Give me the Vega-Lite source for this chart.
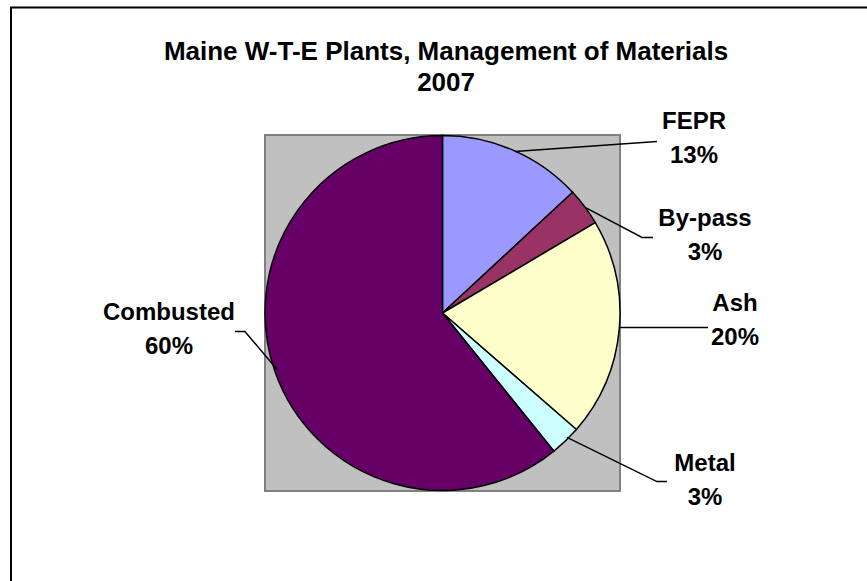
{
  "$schema": "https://vega.github.io/schema/vega-lite/v6.json",
  "width": 355,
  "height": 356,
  "autosize": {"type": "none"},
  "padding": {"left": 265, "top": 135, "right": 247, "bottom": 90},
  "background": "white",
  "view": {"fill": "#C0C0C0", "stroke": "#808080", "strokeWidth": 2},
  "config": {
    "font": "Liberation Sans"
  },
  "datasets": {
    "slices": [
      {"name": "FEPR", "value": 13.1, "pct": "13%", "order": 1, "lx": 1.417, "ly": 0.976},
      {"name": "By-pass", "value": 3.4, "pct": "3%", "order": 2, "lx": 1.479, "ly": 0.435},
      {"name": "Ash", "value": 19.9, "pct": "20%", "order": 3, "lx": 1.648, "ly": -0.045},
      {"name": "Metal", "value": 2.8, "pct": "3%", "order": 4, "lx": 1.479, "ly": -0.945},
      {"name": "Combusted", "value": 60.8, "pct": "60%", "order": 5, "lx": -1.541, "ly": -0.096}
    ],
    "leaders": [
      {"name": "FEPR", "seq": 1, "x": 0.408, "y": 0.907},
      {"name": "FEPR", "seq": 2, "x": 1.208, "y": 0.963},
      {"name": "By-pass", "seq": 1, "x": 0.803, "y": 0.593},
      {"name": "By-pass", "seq": 2, "x": 1.124, "y": 0.424},
      {"name": "By-pass", "seq": 3, "x": 1.186, "y": 0.424},
      {"name": "Ash", "seq": 1, "x": 0.994, "y": -0.081},
      {"name": "Ash", "seq": 2, "x": 1.496, "y": -0.081},
      {"name": "Metal", "seq": 1, "x": 0.701, "y": -0.699},
      {"name": "Metal", "seq": 2, "x": 1.208, "y": -0.947},
      {"name": "Metal", "seq": 3, "x": 1.265, "y": -0.947},
      {"name": "Combusted", "seq": 1, "x": -0.932, "y": -0.317},
      {"name": "Combusted", "seq": 2, "x": -1.113, "y": -0.104},
      {"name": "Combusted", "seq": 3, "x": -1.169, "y": -0.104}
    ],
    "titles": [
      {"text": "Maine W-T-E Plants, Management of Materials", "x": 0.02, "y": 1.466},
      {"text": "2007", "x": 0.02, "y": 1.29}
    ],
    "frame": [
      {"x1": -2.431, "x2": 2.6, "y1": 1.716, "y2": -1.7}
    ]
  },
  "layer": [
    {
      "data": {"name": "frame"},
      "mark": {"type": "rect", "fill": null, "fillOpacity": 0, "stroke": "black", "strokeWidth": 2, "clip": false},
      "encoding": {
        "x": {"field": "x1", "type": "quantitative", "scale": {"domain": [-1, 1], "nice": false, "zero": false}, "axis": null},
        "x2": {"field": "x2"},
        "y": {"field": "y1", "type": "quantitative", "scale": {"domain": [-1, 1], "nice": false, "zero": false}, "axis": null},
        "y2": {"field": "y2"}
      }
    },
    {
      "data": {"name": "slices"},
      "mark": {"type": "arc", "outerRadius": 177.5, "stroke": "black", "strokeWidth": 1.5},
      "encoding": {
        "theta": {"field": "value", "type": "quantitative", "stack": true},
        "order": {"field": "order", "type": "quantitative"},
        "color": {
          "field": "name",
          "type": "nominal",
          "scale": {
            "domain": ["FEPR", "By-pass", "Ash", "Metal", "Combusted"],
            "range": ["#9999FF", "#993366", "#FFFFCC", "#CCFFFF", "#660066"]
          },
          "legend": null
        }
      }
    },
    {
      "data": {"name": "leaders"},
      "mark": {"type": "line", "color": "black", "strokeWidth": 1.5, "clip": false},
      "encoding": {
        "x": {"field": "x", "type": "quantitative"},
        "y": {"field": "y", "type": "quantitative"},
        "detail": {"field": "name"},
        "order": {"field": "seq", "type": "quantitative"}
      }
    },
    {
      "data": {"name": "slices"},
      "mark": {"type": "text", "font": "Liberation Sans", "fontSize": 24, "fontWeight": "bold", "color": "black", "align": "center", "baseline": "middle", "dy": -17, "clip": false},
      "encoding": {
        "x": {"field": "lx", "type": "quantitative"},
        "y": {"field": "ly", "type": "quantitative"},
        "text": {"field": "name"}
      }
    },
    {
      "data": {"name": "slices"},
      "mark": {"type": "text", "font": "Liberation Sans", "fontSize": 24, "fontWeight": "bold", "color": "black", "align": "center", "baseline": "middle", "dy": 17, "clip": false},
      "encoding": {
        "x": {"field": "lx", "type": "quantitative"},
        "y": {"field": "ly", "type": "quantitative"},
        "text": {"field": "pct"}
      }
    },
    {
      "data": {"name": "titles"},
      "mark": {"type": "text", "font": "Liberation Sans", "fontSize": 26, "fontWeight": "bold", "color": "black", "align": "center", "baseline": "middle", "clip": false},
      "encoding": {
        "x": {"field": "x", "type": "quantitative"},
        "y": {"field": "y", "type": "quantitative"},
        "text": {"field": "text"}
      }
    }
  ]
}
